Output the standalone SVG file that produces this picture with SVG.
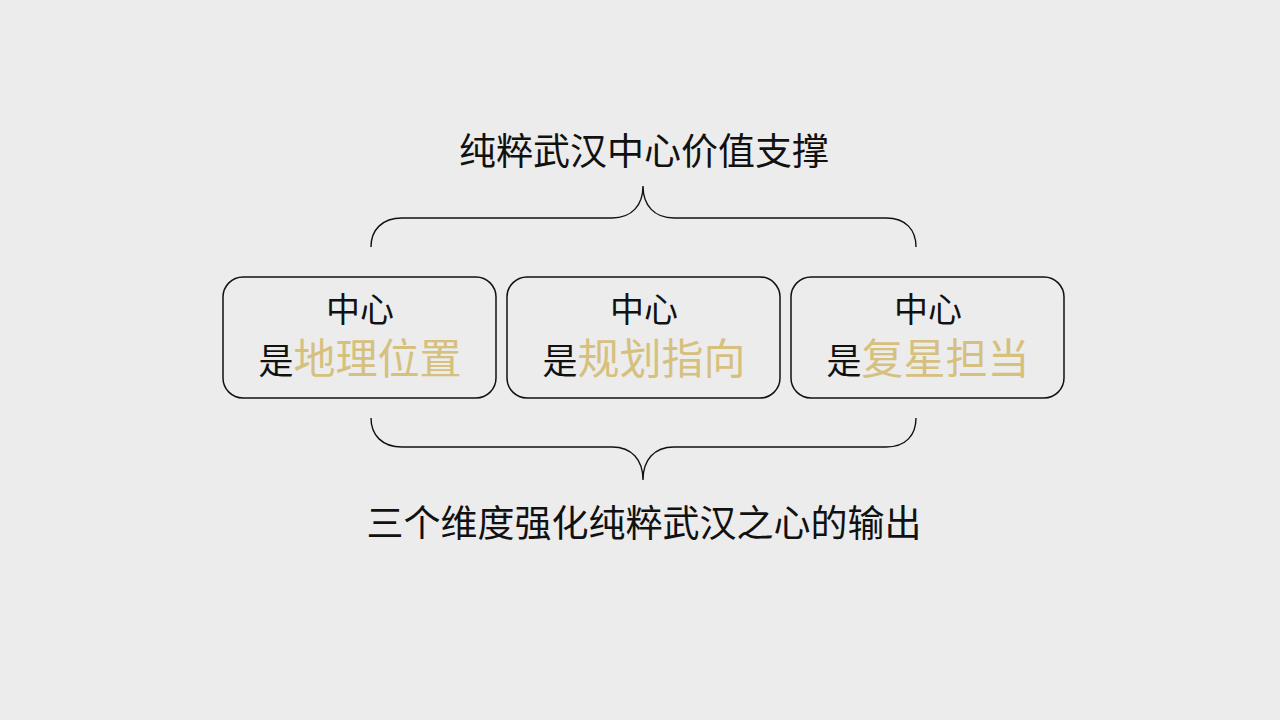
<svg xmlns="http://www.w3.org/2000/svg" width="1280" height="720" viewBox="0 0 1280 720">
<style>
.bg{fill:#ececec}
.box{fill:none;stroke:#111;stroke-width:1.5}
.brace{fill:none;stroke:#111;stroke-width:1.4}
text{font-family:"Noto Sans CJK SC","Noto Sans",sans-serif;fill:#111}
.t{font-size:37px}
.h{font-size:34px}
.s{font-size:35px}
.g{font-size:42px;fill:#d6c07e}
</style>
<rect class="bg" x="0" y="0" width="1280" height="720"/>
<text class="t" x="644" y="165" text-anchor="middle">纯粹武汉中心价值支撑</text>
<g id="connectors">
<path class="brace" d="M371,247 C371,230 382,218 402,218 L612,218 C632,218 643,205 643,186 C643,205 654,218 674,218 L886,218 C906,218 916,230 916,247"/>
<path class="brace" d="M371,418 C371,435 382,447 402,447 L612,447 C632,447 643,460 643,480 C643,460 654,447 674,447 L886,447 C906,447 916,435 916,418"/>
</g>
<g id="node1">
<rect class="box" x="223" y="277" width="273" height="121" rx="20"/>
<text class="h" x="360" y="322" text-anchor="middle">中心</text>
<text x="360" y="374" text-anchor="middle"><tspan class="s">是</tspan><tspan class="g">地理位置</tspan></text>
</g>
<g id="node2">
<rect class="box" x="507" y="277" width="273" height="121" rx="20"/>
<text class="h" x="644" y="322" text-anchor="middle">中心</text>
<text x="644" y="374" text-anchor="middle"><tspan class="s">是</tspan><tspan class="g">规划指向</tspan></text>
</g>
<g id="node3">
<rect class="box" x="791" y="277" width="273" height="121" rx="20"/>
<text class="h" x="928" y="322" text-anchor="middle">中心</text>
<text x="928" y="374" text-anchor="middle"><tspan class="s">是</tspan><tspan class="g">复星担当</tspan></text>
</g>
<text class="t" x="644" y="537" text-anchor="middle">三个维度强化纯粹武汉之心的输出</text>
</svg>
